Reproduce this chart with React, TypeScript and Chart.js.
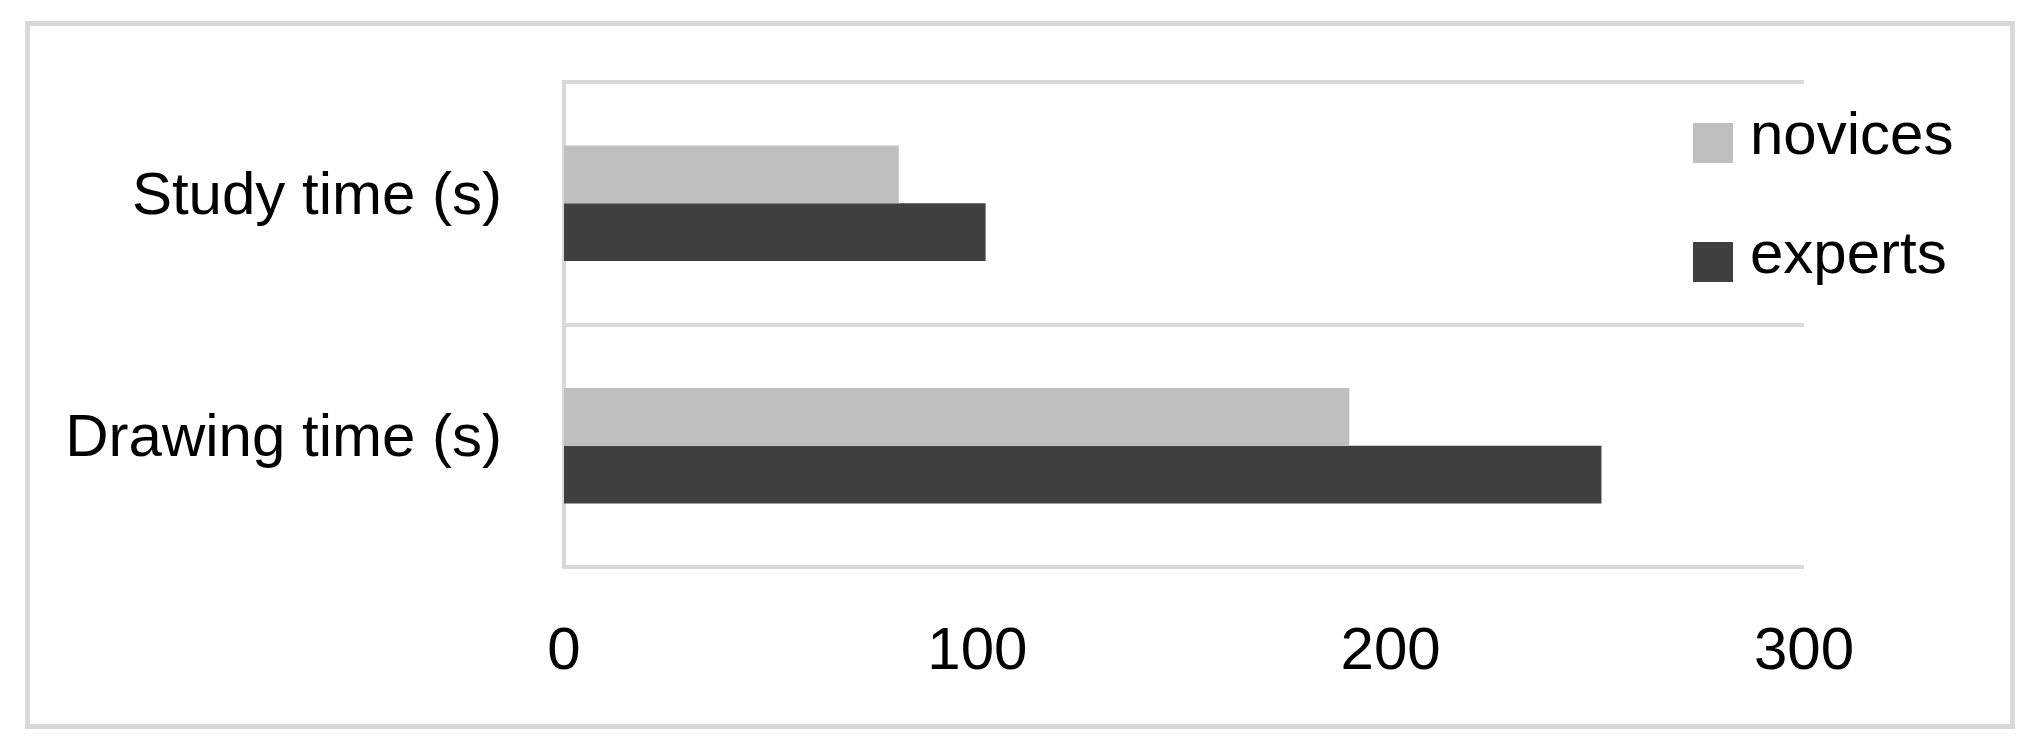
import React, { useEffect, useRef } from "react";
import { Chart, registerables } from "chart.js";

Chart.register(...registerables);

const categories = ["Study time (s)", "Drawing time (s)"];
const seriesNames = ["novices", "experts"];
const novicesValues = [81, 190];
const expertsValues = [102, 251];
const xTickValues = [0, 100, 200, 300];
const seriesColors = ["#bfbfbf", "#404040"];

const FONT = "'Liberation Sans', Arial, sans-serif";
const FONT_SIZE = 60;

export default function App() {
  const ref = useRef<HTMLCanvasElement>(null);

  useEffect(() => {
    const canvas = ref.current;
    if (!canvas) return;

    const framePlugin = {
      id: "frame",
      beforeDraw(chart: any) {
        const ctx = chart.ctx;
        ctx.save();
        ctx.fillStyle = "#ffffff";
        ctx.fillRect(0, 0, chart.width, chart.height);
        ctx.strokeStyle = "#d9d9d9";
        ctx.lineWidth = 5;
        ctx.strokeRect(27.5, 23.5, 1985, 703);
        ctx.restore();
      },
    };

    const legendPlugin = {
      id: "sideLegend",
      afterDraw(chart: any) {
        const { ctx, chartArea } = chart;
        ctx.save();
        ctx.font = `${FONT_SIZE}px ${FONT}`;
        ctx.textBaseline = "alphabetic";
        ctx.textAlign = "left";
        chart.data.datasets.forEach((ds: any, i: number) => {
          const x = chartArea.right - 111;
          const y = chartArea.top + 41 + i * 119;
          ctx.fillStyle = ds.backgroundColor;
          ctx.fillRect(x, y, 40, 40);
          ctx.fillStyle = "#000000";
          ctx.fillText(ds.label, x + 57, y + 31);
        });
        ctx.restore();
      },
    };

    const chart = new Chart(canvas, {
      type: "bar",
      data: {
        labels: categories,
        datasets: [
          {
            label: seriesNames[0],
            data: novicesValues,
            backgroundColor: seriesColors[0],
            barPercentage: 1,
            categoryPercentage: 0.477,
          },
          {
            label: seriesNames[1],
            data: expertsValues,
            backgroundColor: seriesColors[1],
            barPercentage: 1,
            categoryPercentage: 0.477,
          },
        ],
      },
      options: {
        indexAxis: "y",
        animation: false,
        responsive: false,
        devicePixelRatio: 1,
        layout: {
          padding: { left: 30, top: 82, right: 234, bottom: 66 },
        },
        plugins: {
          legend: { display: false },
          tooltip: { enabled: false },
          title: { display: false },
        },
        scales: {
          x: {
            type: "linear",
            min: 0,
            max: 300,
            afterBuildTicks: (scale: any) => {
              scale.ticks = xTickValues.map((v) => ({ value: v }));
            },
            afterFit: (scale: any) => {
              scale.height = 120;
              scale.paddingLeft = 0;
              scale.paddingRight = 0;
            },
            grid: { display: false, drawTicks: false },
            border: { display: false },
            ticks: {
              color: "#000000",
              padding: 49,
              maxRotation: 0,
              font: { family: FONT, size: FONT_SIZE },
            },
          },
          y: {
            type: "category",
            afterFit: (scale: any) => {
              scale.width = 534;
              scale.paddingTop = 0;
              scale.paddingBottom = 0;
            },
            grid: {
              display: true,
              offset: true,
              color: "#d9d9d9",
              lineWidth: 4,
              drawTicks: false,
            },
            border: { display: true, color: "#d9d9d9", width: 4 },
            ticks: {
              color: "#000000",
              padding: 62,
              labelOffset: -6,
              font: { family: FONT, size: FONT_SIZE },
            },
          },
        },
      },
      plugins: [framePlugin, legendPlugin],
    });

    return () => chart.destroy();
  }, []);

  return (
    <div style={{ position: "fixed", left: 0, top: 0, width: 2038, height: 753 }}>
      <canvas ref={ref} width={2038} height={753} style={{ width: 2038, height: 753, display: "block" }} />
    </div>
  );
}
